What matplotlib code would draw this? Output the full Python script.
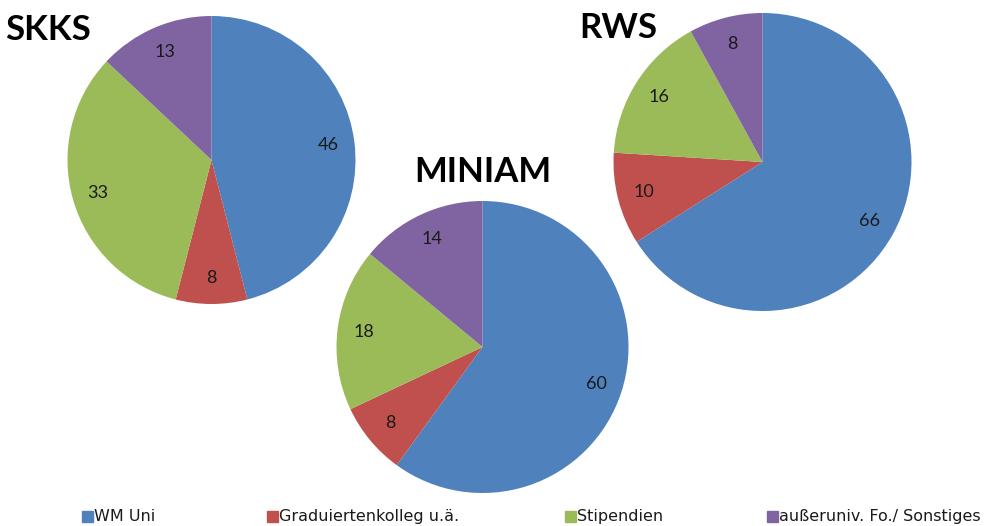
import matplotlib
matplotlib.use("Agg")
import matplotlib.pyplot as plt
from matplotlib.patches import Rectangle

# Data (share in percent)
categories = ["WM Uni", "Graduiertenkolleg u.ä.", "Stipendien", "außeruniv. Fo./ Sonstiges"]
colors = ["#4F81BD", "#C0504D", "#9BBB59", "#8064A2"]
skks = [46, 8, 33, 13]
miniam = [60, 8, 18, 14]
rws = [66, 10, 16, 8]

W, H = 999, 526
fig = plt.figure(figsize=(W / 100, H / 100), dpi=100)
fig.patch.set_facecolor("white")


def draw_pie(values, title, cx, cy, r, tx, ty):
    # cx, cy, r in pixels (y from top)
    ax = fig.add_axes([(cx - r) / W, 1 - (cy + r) / H, 2 * r / W, 2 * r / H])
    ax.pie(values, colors=colors, startangle=90, counterclock=False,
           autopct=lambda p: "%d" % round(p), pctdistance=0.82,
           textprops=dict(fontsize=13, color="#1a1a1a", family="Lato"),
           wedgeprops=dict(linewidth=0))
    ax.set_xlim(-1, 1)
    ax.set_ylim(-1, 1)
    ax.set_aspect("equal")
    ax.axis("off")
    fig.text(tx / W, 1 - ty / H, title, fontsize=25, fontweight="bold",
             family="Lato", ha="center", va="center", color="black")


draw_pie(skks, "SKKS", 211.5, 160, 144, 48, 30)
draw_pie(rws, "RWS", 762.5, 162, 149, 618, 28)
draw_pie(miniam, "MINIAM", 482.5, 347, 146, 483, 172)

# legend along the bottom
legend_x = [82, 267, 565, 767]
for x, name, c in zip(legend_x, categories, colors):
    fig.patches.append(Rectangle((x / W, 1 - 522 / H), 11 / W, 11 / H,
                                 transform=fig.transFigure, color=c))
    fig.text((x + 12) / W, 1 - 521 / H, name, fontsize=11.5,
             family="DejaVu Sans", ha="left", va="baseline", color="#1a1a1a")

fig.savefig("out.png", dpi=100)
